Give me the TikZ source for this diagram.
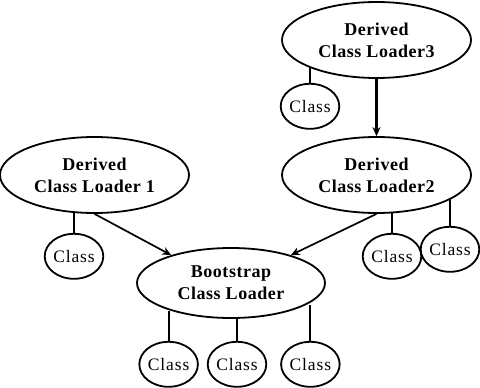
\documentclass[tikz,border=0pt]{standalone}
\usepackage{fontspec}
\setmainfont{Liberation Serif}
\usetikzlibrary{positioning,shapes.geometric,arrows.meta}

\begin{document}
\begin{tikzpicture}[x=1pt, y=1pt,
  loader/.style={ellipse, draw, line width=1.8pt, minimum width=189pt, minimum height=76pt,
    inner sep=0pt, align=center, font=\bfseries\fontsize{18}{22}\selectfont\addfontfeatures{LetterSpace=3}},
  klasa/.style={ellipse, draw, line width=1.8pt, minimum width=55pt, minimum height=45pt,
    inner sep=0pt, font=\fontsize{17.5}{20}\selectfont\addfontfeatures{LetterSpace=5}},
  arrow/.style={-{Stealth[length=9pt,width=8pt]}, line width=1.7pt},
  link/.style={line width=2.2pt}]

\useasboundingbox (0,0) rectangle (480,-388);

%class loaders
\node (dl3) [loader] at (376.5,-40) {Derived\\Class Loader3};
\node (dl2) [loader] at (376.5,-175) {Derived\\Class Loader2};
\node (dl1) [loader] at (94.5,-175) {Derived\\Class Loader 1};
\node (boot) [loader, minimum width=188pt, minimum height=70pt] at (231,-283) {Bootstrap\\Class Loader};

%classes of the derived loaders
\node (c3) [klasa, below=4pt of dl3, xshift=-66.5pt] {Class};
\node (c1) [klasa, below=19pt of dl1, xshift=-20.5pt] {Class};
\node (c2a) [klasa, below=19pt of dl2, xshift=15.5pt] {Class};
\node (c2b) [klasa, below=12pt of dl2, xshift=73.5pt] {Class};

%classes of the bootstrap loader
\node (cb2) [klasa, below=22pt of boot, xshift=6pt] {Class};
\node (cb1) [klasa, left=8pt of cb2] {Class};
\node (cb3) [klasa, right=13pt of cb2] {Class};

%delegation arrows
\draw[arrow, line width=2.2pt] (dl3.south) -- (dl2.north);
\draw[arrow] (dl1.south) -- (boot.155);
\draw[arrow] (dl2.south) -- (boot.25);

%lines from loaders to their classes
\draw[link] (c3.north) -- (c3.north |- dl3.202);
\draw[link] (c1.north) -- (c1.north |- dl1.241);
\draw[link] (c2a.north) -- (c2a.north |- dl2.292);
\draw[link] (c2b.north) -- (c2b.north |- dl2.343);
\draw[link] (cb1.north) -- (cb1.north |- boot.206);
\draw[link] (cb2.north) -- (cb2.north |- boot.280);
\draw[link] (cb3.north) -- (cb3.north |- boot.344);

\end{tikzpicture}
\end{document}
